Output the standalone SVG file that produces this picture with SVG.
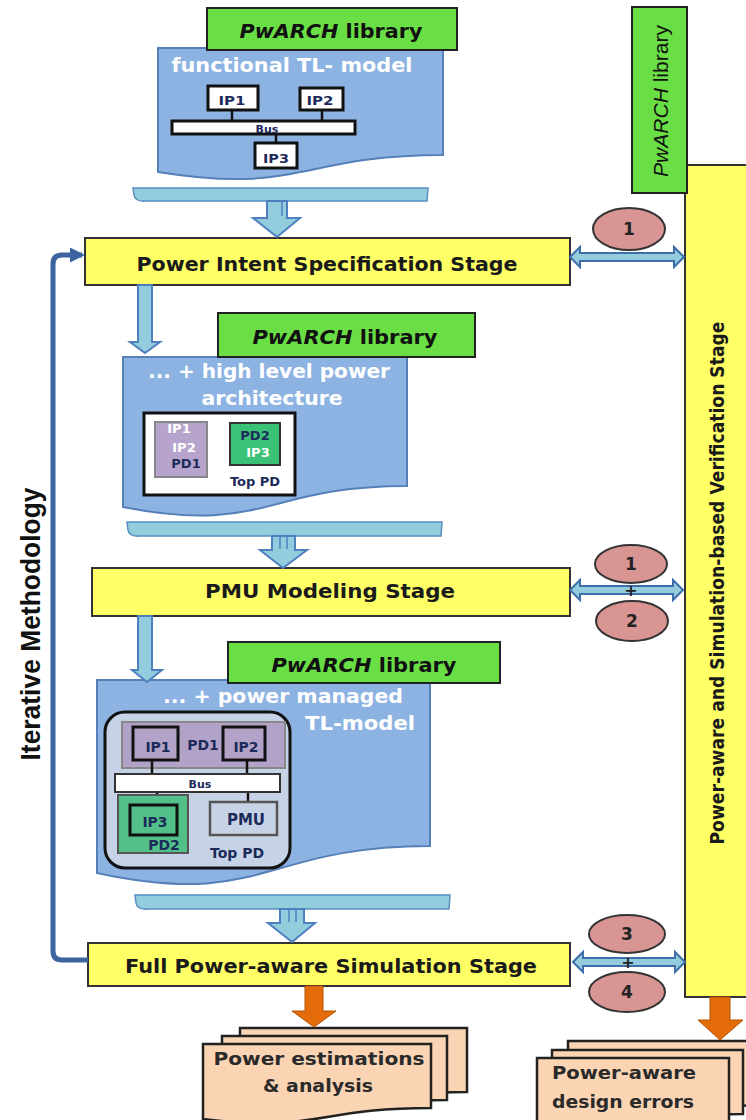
<svg xmlns="http://www.w3.org/2000/svg" width="746" height="1120" viewBox="0 0 746 1120">
<defs>
<style>
.doc{fill:#8db3e2;stroke:#5580b8;stroke-width:2}
.lib{fill:#6ade45;stroke:#222;stroke-width:2}
.stage{fill:#ffff66;stroke:#333;stroke-width:2}
.bar{fill:#93cddd;stroke:#5a8fc0;stroke-width:1.5}
.barrow{fill:#93cddd;stroke:#4f7fbf;stroke-width:2}
.dbl{fill:#93cddd;stroke:#3e6fa8;stroke-width:2}
.ell{fill:#d99594;stroke:#333;stroke-width:2}
.orange{fill:#e46c0a;stroke:#b35100;stroke-width:1}
.peach{fill:#fbd4b4;stroke:#222;stroke-width:2.5}
.ipw{fill:#fff;stroke:#111;stroke-width:3}
.t{font-family:"DejaVu Sans",sans-serif;font-weight:bold}
.lbl{font-family:"DejaVu Sans",sans-serif;font-weight:bold;font-size:19px;fill:#1a1a1a;text-anchor:middle}
.wt{font-family:"DejaVu Sans",sans-serif;font-weight:bold;font-size:19px;fill:#fff;text-anchor:middle}
.sm{font-family:"DejaVu Sans",sans-serif;font-weight:bold;fill:#1c2b5a;text-anchor:middle}
.smw{font-family:"DejaVu Sans",sans-serif;font-weight:bold;fill:#fff;text-anchor:middle}
.num{font-family:"DejaVu Sans",sans-serif;font-weight:bold;fill:#222;text-anchor:middle}
.wire{stroke:#111;stroke-width:2.5;fill:none}
</style>
<marker id="loopHead" viewBox="0 0 10 10" refX="8" refY="5" markerWidth="3" markerHeight="3" orient="auto">
<path d="M0,0 L10,5 L0,10 Z" fill="#3b64a0"/>
</marker>
</defs>
<rect width="746" height="1120" fill="#fff"/>

<!-- Right side verification column -->
<g id="verification-stage">
<rect x="685" y="165" width="80" height="832" class="stage"/>
<text class="t" font-size="19" fill="#1a1a1a" text-anchor="middle" transform="translate(724,583) rotate(-90)" textLength="523" lengthAdjust="spacingAndGlyphs">Power-aware and Simulation-based Verification Stage</text>
</g>
<g id="lib-vertical">
<rect x="632" y="7" width="55" height="186" class="lib"/>
<text font-family="Liberation Sans, sans-serif" font-size="20" fill="#111" text-anchor="middle" transform="translate(668,101) rotate(-90)" textLength="152" lengthAdjust="spacingAndGlyphs"><tspan font-style="italic">PwARCH</tspan> library</text>
</g>

<!-- Document 1 -->
<g id="doc-functional">
<path class="doc" d="M158,48 H443 V155 C300.5,155 300.5,195 158,172 Z"/>
<text class="wt" x="292" y="72" textLength="241" lengthAdjust="spacingAndGlyphs">functional TL- model</text>
<line class="wire" x1="232" y1="110" x2="232" y2="121"/>
<line class="wire" x1="322" y1="110" x2="322" y2="121"/>
<line class="wire" x1="276" y1="134" x2="276" y2="144"/>
<rect class="ipw" x="208" y="86" width="50" height="24"/>
<rect class="ipw" x="300" y="88" width="43" height="22"/>
<rect class="ipw" x="172" y="121" width="183" height="13"/>
<rect class="ipw" x="255" y="143" width="42" height="25"/>
<text class="sm" x="232" y="105" font-size="13" textLength="27" lengthAdjust="spacingAndGlyphs">IP1</text>
<text class="sm" x="320" y="105" font-size="13" textLength="27" lengthAdjust="spacingAndGlyphs">IP2</text>
<text class="sm" x="267" y="133" font-size="11">Bus</text>
<text class="sm" x="276" y="163" font-size="13" textLength="26" lengthAdjust="spacingAndGlyphs">IP3</text>
</g>
<g id="lib-1">
<rect x="207" y="8" width="250" height="42" class="lib"/>
<text class="t" font-size="19" fill="#111" text-anchor="middle" x="331" y="38" textLength="183" lengthAdjust="spacingAndGlyphs"><tspan font-style="italic">PwARCH</tspan> library</text>
</g>
<g id="bar-1"><path class="bar" d="M133,188 H428 L427,201 H146 Q135,202 134,195 Z"/></g>

<!-- Stage 1 -->
<g id="stage-power-intent">
<rect x="85" y="238" width="485" height="47" class="stage"/>
<text class="lbl" x="327" y="271" textLength="381" lengthAdjust="spacingAndGlyphs">Power Intent Specification Stage</text>
</g>

<!-- Document 2 -->
<g id="doc-high-level">
<path class="doc" d="M123,357 H407 V486 C265,486 265,535 123,507 Z"/>
<text class="wt" x="269" y="378" textLength="242" lengthAdjust="spacingAndGlyphs">... + high level power</text>
<text class="wt" x="272" y="405" textLength="141" lengthAdjust="spacingAndGlyphs">architecture</text>
<rect x="144" y="413" width="151" height="82" fill="#fff" stroke="#111" stroke-width="3"/>
<rect x="155" y="422" width="52" height="55" fill="#b7a4cc" stroke="#888" stroke-width="2"/>
<rect x="230" y="423" width="50" height="42" fill="#3cc277" stroke="#333" stroke-width="2"/>
<text class="smw" x="179" y="433" font-size="13">IP1</text>
<text class="smw" x="184" y="452" font-size="13">IP2</text>
<text class="sm" x="186" y="468" font-size="13">PD1</text>
<text class="sm" x="255" y="440" font-size="13">PD2</text>
<text class="smw" x="258" y="457" font-size="13">IP3</text>
<text class="sm" x="255" y="486" font-size="13">Top PD</text>
</g>
<g id="lib-2">
<rect x="218" y="313" width="257" height="44" class="lib"/>
<text class="t" font-size="19" fill="#111" text-anchor="middle" x="345" y="344" textLength="185" lengthAdjust="spacingAndGlyphs"><tspan font-style="italic">PwARCH</tspan> library</text>
</g>
<g id="bar-2"><path class="bar" d="M127,522 H442 L441,536 H140 Q129,537 128,530 Z"/></g>

<!-- Stage 2 -->
<g id="stage-pmu">
<rect x="92" y="568" width="478" height="48" class="stage"/>
<text class="lbl" x="330" y="598" textLength="250" lengthAdjust="spacingAndGlyphs">PMU Modeling Stage</text>
</g>

<!-- Document 3 -->
<g id="doc-power-managed">
<path class="doc" d="M97,680 H430 V846 C263.5,846 263.5,909 97,873 Z"/>
<text class="wt" x="283" y="703" textLength="240" lengthAdjust="spacingAndGlyphs">... + power managed</text>
<text class="wt" x="360" y="730" textLength="110" lengthAdjust="spacingAndGlyphs">TL-model</text>
<rect x="105" y="712" width="185" height="156" rx="20" fill="#c6d3e6" stroke="#111" stroke-width="3"/>
<rect x="122" y="722" width="163" height="46" fill="#b3a2c7" stroke="#888" stroke-width="2"/>
<line class="wire" x1="152" y1="760" x2="152" y2="774"/>
<line class="wire" x1="247" y1="760" x2="247" y2="774"/>
<line class="wire" x1="157" y1="792" x2="157" y2="806"/>
<line class="wire" x1="248" y1="792" x2="248" y2="803"/>
<rect x="133" y="727" width="45" height="33" fill="#b3a2c7" stroke="#111" stroke-width="3"/>
<rect x="223" y="727" width="42" height="33" fill="#b3a2c7" stroke="#111" stroke-width="3"/>
<rect x="115" y="774" width="165" height="18" fill="#fff" stroke="#333" stroke-width="2"/>
<rect x="118" y="795" width="70" height="58" fill="#52c088" stroke="#555" stroke-width="2"/>
<rect x="130" y="805" width="47" height="30" fill="#52c088" stroke="#111" stroke-width="3"/>
<rect x="210" y="802" width="67" height="33" fill="#c6d3e6" stroke="#555" stroke-width="2.5"/>
<text class="sm" x="158" y="752" font-size="14">IP1</text>
<text class="sm" x="203" y="750" font-size="14">PD1</text>
<text class="sm" x="246" y="752" font-size="14">IP2</text>
<text class="sm" x="200" y="788" font-size="11">Bus</text>
<text class="sm" x="155" y="827" font-size="14">IP3</text>
<text class="sm" x="164" y="850" font-size="14">PD2</text>
<text class="sm" x="246" y="825" font-size="15">PMU</text>
<text class="sm" x="237" y="858" font-size="14">Top PD</text>
</g>
<g id="lib-3">
<rect x="228" y="642" width="272" height="41" class="lib"/>
<text class="t" font-size="19" fill="#111" text-anchor="middle" x="364" y="672" textLength="185" lengthAdjust="spacingAndGlyphs"><tspan font-style="italic">PwARCH</tspan> library</text>
</g>
<g id="bar-3"><path class="bar" d="M135,895 H450 L449,909 H148 Q137,910 136,903 Z"/></g>

<!-- Stage 3 -->
<g id="stage-full-sim">
<rect x="88" y="943" width="482" height="43" class="stage"/>
<text class="lbl" x="331" y="973" textLength="412" lengthAdjust="spacingAndGlyphs">Full Power-aware Simulation Stage</text>
</g>

<!-- Output documents -->
<g id="out-power-estimations">
<path class="peach" d="M240,1028 H467 V1092 C353.5,1092 353.5,1117 240,1103 Z"/>
<path class="peach" d="M222,1036 H447 V1100 C334.5,1100 334.5,1125 222,1111 Z"/>
<path class="peach" d="M203,1044 H431 V1108 C317,1108 317,1133 203,1119 Z"/>
<text class="t" font-size="17" fill="#2a2a2a" text-anchor="middle" x="319" y="1065" textLength="211" lengthAdjust="spacingAndGlyphs">Power  estimations</text>
<text class="t" font-size="17" fill="#2a2a2a" text-anchor="middle" x="318" y="1092" textLength="110" lengthAdjust="spacingAndGlyphs">&amp; analysis</text>
</g>
<g id="out-design-errors">
<path class="peach" d="M568,1041 H770 V1105 C669,1105 669,1130 568,1116 Z"/>
<path class="peach" d="M552,1050 H743 V1114 C647.5,1114 647.5,1139 552,1125 Z"/>
<path class="peach" d="M537,1058 H729 V1122 C633,1122 633,1147 537,1133 Z"/>
<text class="t" font-size="17" fill="#2a2a2a" text-anchor="start" x="552" y="1079" textLength="144" lengthAdjust="spacingAndGlyphs">Power-aware</text>
<text class="t" font-size="17" fill="#2a2a2a" text-anchor="start" x="552" y="1108" textLength="142" lengthAdjust="spacingAndGlyphs">design errors</text>
</g>

<!-- Verification labels -->
<g id="label-1a"><ellipse cx="629" cy="229" rx="36" ry="21" class="ell"/><text class="num" x="629" y="235" font-size="17">1</text></g>
<g id="label-1b"><ellipse cx="631" cy="564" rx="36" ry="19" class="ell"/><text class="num" x="631" y="570" font-size="17">1</text></g>
<g id="label-2"><ellipse cx="632" cy="621" rx="36" ry="20" class="ell"/><text class="num" x="632" y="627" font-size="17">2</text></g>
<g id="label-3"><ellipse cx="627" cy="934" rx="38" ry="19" class="ell"/><text class="num" x="627" y="940" font-size="17">3</text></g>
<g id="label-4"><ellipse cx="627" cy="992" rx="38" ry="20" class="ell"/><text class="num" x="627" y="998" font-size="17">4</text></g>

<!-- Connectors -->
<g id="connectors">
<path d="M88,960 H62 Q53,960 53,951 V264 Q53,255 62,255 H82" fill="none" stroke="#3b64a0" stroke-width="5" marker-end="url(#loopHead)"/>
<path class="barrow" d="M267,201 V218 H253 L277,237 L300,218 H287 V201 Z"/>
<line x1="282" y1="202" x2="282" y2="216" stroke="#4f7fbf" stroke-width="1.5"/>
<path class="barrow" d="M272,536 V550 H260 L283,568 L307,550 H295 V536 Z"/>
<line x1="280" y1="537" x2="280" y2="549" stroke="#4f7fbf" stroke-width="1.5"/>
<line x1="287" y1="537" x2="287" y2="549" stroke="#4f7fbf" stroke-width="1.5"/>
<path class="barrow" d="M280,909 V923 H268 L292,942 L315,923 H304 V909 Z"/>
<line x1="289" y1="910" x2="289" y2="922" stroke="#4f7fbf" stroke-width="1.5"/>
<line x1="296" y1="910" x2="296" y2="922" stroke="#4f7fbf" stroke-width="1.5"/>
<path class="barrow" d="M138,285 V342 H130 L145,353 L160,342 H152 V285 Z"/>
<path class="barrow" d="M138,616 V670 H132 L147,682 L162,670 H152 V616 Z"/>
<path class="dbl" d="M570,257 L580,247 V253 H674 V247 L684,257 L674,267 V261 H580 V267 Z"/>
<path class="dbl" d="M570,590 L580,580 V586 H673 V580 L683,590 L673,600 V594 H580 V600 Z"/>
<path class="dbl" d="M573,962 L583,952 V958 H675 V952 L685,962 L675,972 V966 H583 V972 Z"/>
<text class="num" x="631" y="596" font-size="16">+</text>
<text class="num" x="628" y="968" font-size="16">+</text>
<path class="orange" d="M305,986 V1011 H292 L314,1027 L336,1011 H323 V986 Z"/>
<path class="orange" d="M710,997 V1020 H698 L720,1040 L743,1020 H730 V997 Z"/>
</g>

<g id="iterative-label">
<text font-family="Liberation Sans, sans-serif" font-weight="bold" font-size="27" fill="#111" text-anchor="middle" transform="translate(40,624) rotate(-90)" textLength="273" lengthAdjust="spacingAndGlyphs">Iterative Methodology</text>
</g>
</svg>
